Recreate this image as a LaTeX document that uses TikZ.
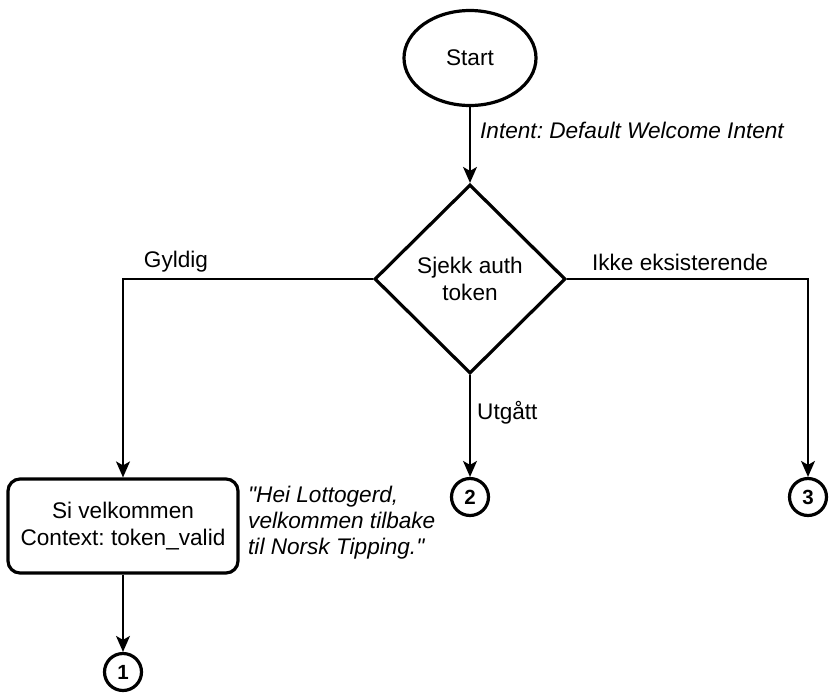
\documentclass[tikz,border=0pt]{standalone}
\usepackage{fontspec}
\setmainfont{Liberation Sans}[Ligatures=TeXOff]
\usetikzlibrary{shapes.geometric,arrows.meta}
\frenchspacing
\begin{document}
\begin{tikzpicture}[x=1pt,y=-1pt,
  every node/.style={font=\fontsize{22.6}{27.5}\selectfont},
  heavy/.style={draw=black,line width=3.2pt,fill=white},
  flow/.style={draw=black,line width=1.6pt,-{Stealth[length=16pt,width=14pt,inset=4pt]}},
  connector/.style={heavy,circle,minimum size=37pt,inner sep=0pt,font=\fontsize{20.5}{22}\selectfont\bfseries},
  lbl/.style={inner sep=0pt},
  note/.style={inner sep=0pt,font=\fontsize{22.6}{26}\selectfont\itshape,align=left}
]
\path[use as bounding box] (0,0) rectangle (830,694);

% shapes
\node[heavy,ellipse,minimum width=132pt,minimum height=95pt,inner sep=0pt] (start) at (470,58) {Start};
\node[heavy,diamond,minimum width=191pt,minimum height=189pt,inner sep=0pt,align=center] (check) at (470,279) {Sjekk auth\\token};
\node[heavy,rounded corners=12pt,minimum width=230pt,minimum height=94pt,inner sep=0pt,align=center] (welcome) at (123,526) {Si velkommen\\Context: token\_valid};
\node[connector] (c1) at (123,672) {1};
\node[connector] (c2) at (470,497) {2};
\node[connector] (c3) at (808,497) {3};

% connectors
\draw[flow] (start) -- (check);
\draw[flow] (check.west) -| (welcome.north);
\draw[flow] (check.south) -- (c2.north);
\draw[flow] (check.east) -| (c3.north);
\draw[flow] (welcome.south) -- (c1.north);

% labels
\node[lbl,anchor=west,font=\fontsize{22.6}{27}\selectfont\itshape] (intent) at (480,130) {Intent: Default Welcome Intent};
\node[lbl] (gyldig) at (176,262) {Gyldig};
\node[lbl] (ikke) at (680,262) {Ikke eksisterende};
\node[lbl,anchor=west] (utgatt) at (477,413) {Utgått};
\node[note,anchor=west] (quote) at (248,523) {"Hei Lottogerd,\\velkommen tilbake\\til Norsk Tipping."};
\end{tikzpicture}
\end{document}
